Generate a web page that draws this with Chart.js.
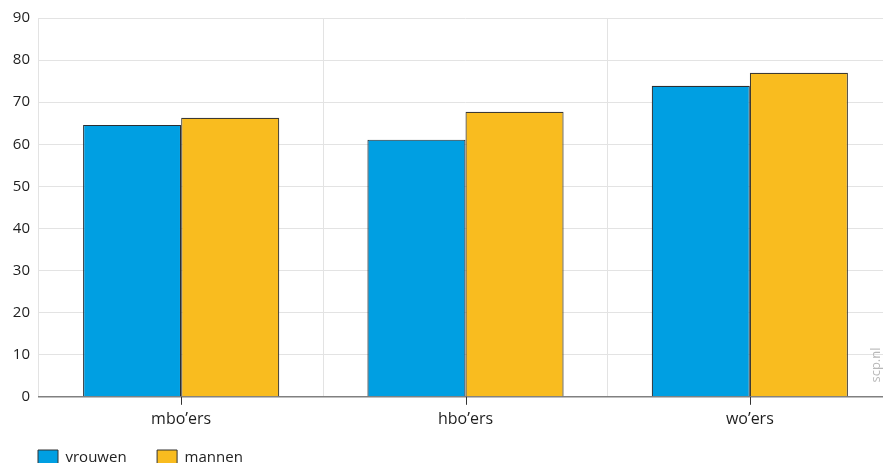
<!DOCTYPE html>
<html><head><meta charset="utf-8">
<script src="https://cdn.jsdelivr.net/npm/chart.js@4/dist/chart.umd.min.js"></script>
<style>
html,body{margin:0;padding:0;overflow:hidden;background:#fff;}
#wrap{width:892px;height:463px;position:relative;}
</style></head>
<body><div id="wrap"><canvas id="c"></canvas></div>
<script>
const categories = ["mbo\u2019ers", "hbo\u2019ers", "wo\u2019ers"];
const vrouwen = [64.6, 61.1, 73.9];
const mannen = [66.3, 67.7, 77.0];
const seriesNames = ["vrouwen", "mannen"];
const yTicks = [0, 10, 20, 30, 40, 50, 60, 70, 80, 90];

const FONT = "'Open Sans', sans-serif";

const extras = {
  id: 'extras',
  afterLayout(chart) {
    if (chart.legend) { chart.legend.left = 30; }
  },
  afterDraw(chart) {
    const ctx = chart.ctx;
    const x = chart.scales.x;
    const area = chart.chartArea;
    ctx.save();
    ctx.strokeStyle = '#333';
    ctx.lineWidth = 1;
    categories.forEach((c, i) => {
      const px = Math.round(x.getPixelForValue(i)) + 0.5;
      ctx.beginPath();
      ctx.moveTo(px, area.bottom);
      ctx.lineTo(px, area.bottom + 8);
      ctx.stroke();
    });
    ctx.translate(876, 365);
    ctx.rotate(-Math.PI / 2);
    ctx.fillStyle = '#b8b8b8';
    ctx.font = "13px " + FONT;
    ctx.textAlign = 'center';
    ctx.textBaseline = 'middle';
    ctx.fillText('scp.nl', 0, 0);
    ctx.restore();
  }
};

new Chart(document.getElementById('c'), {
  type: 'bar',
  data: {
    labels: categories,
    datasets: [
      { label: seriesNames[0], data: vrouwen, backgroundColor: '#009fe2', borderColor: '#2a2f33', borderWidth: 1.2 },
      { label: seriesNames[1], data: mannen, backgroundColor: '#f9bc1f', borderColor: '#3d3a33', borderWidth: 1.2 }
    ]
  },
  options: {
    responsive: true,
    maintainAspectRatio: false,
    animation: false,
    layout: { padding: { top: 8, left: 0, right: 0, bottom: -12 } },
    datasets: { bar: { categoryPercentage: 0.69, barPercentage: 1.0 } },
    plugins: {
      legend: {
        position: 'bottom',
        align: 'start',
        labels: {
          boxWidth: 20, boxHeight: 15, padding: 8,
          color: '#222',
          font: { family: FONT, size: 15 },
          generateLabels(chart) {
            const n = chart.data.datasets.length;
            return chart.data.datasets.map((d, i) => ({
              text: d.label + (i < n - 1 ? '\u2003\u2002' : ''),
              fillStyle: d.backgroundColor, strokeStyle: '#333',
              lineWidth: 1, datasetIndex: i, hidden: false, fontColor: '#222'
            }));
          }
        }
      },
      tooltip: { enabled: false }
    },
    scales: {
      x: {
        grid: { display: true, color: '#e3e3e3', drawTicks: false, offset: true },
        border: { display: true, color: '#808080', width: 1.5 },
        ticks: { color: '#1e1e1e', padding: 13, font: { family: FONT, size: 16 } }
      },
      y: {
        min: 0, max: 90,
        afterBuildTicks(scale) { scale.ticks = yTicks.map(v => ({ value: v })); },
        afterFit(scale) { scale.width = 39; },
        grid: { color: '#e3e3e3', drawTicks: false },
        border: { display: false },
        ticks: { color: '#1e1e1e', padding: 9, font: { family: FONT, size: 15 } }
      }
    }
  },
  plugins: [extras]
});
</script></body></html>
